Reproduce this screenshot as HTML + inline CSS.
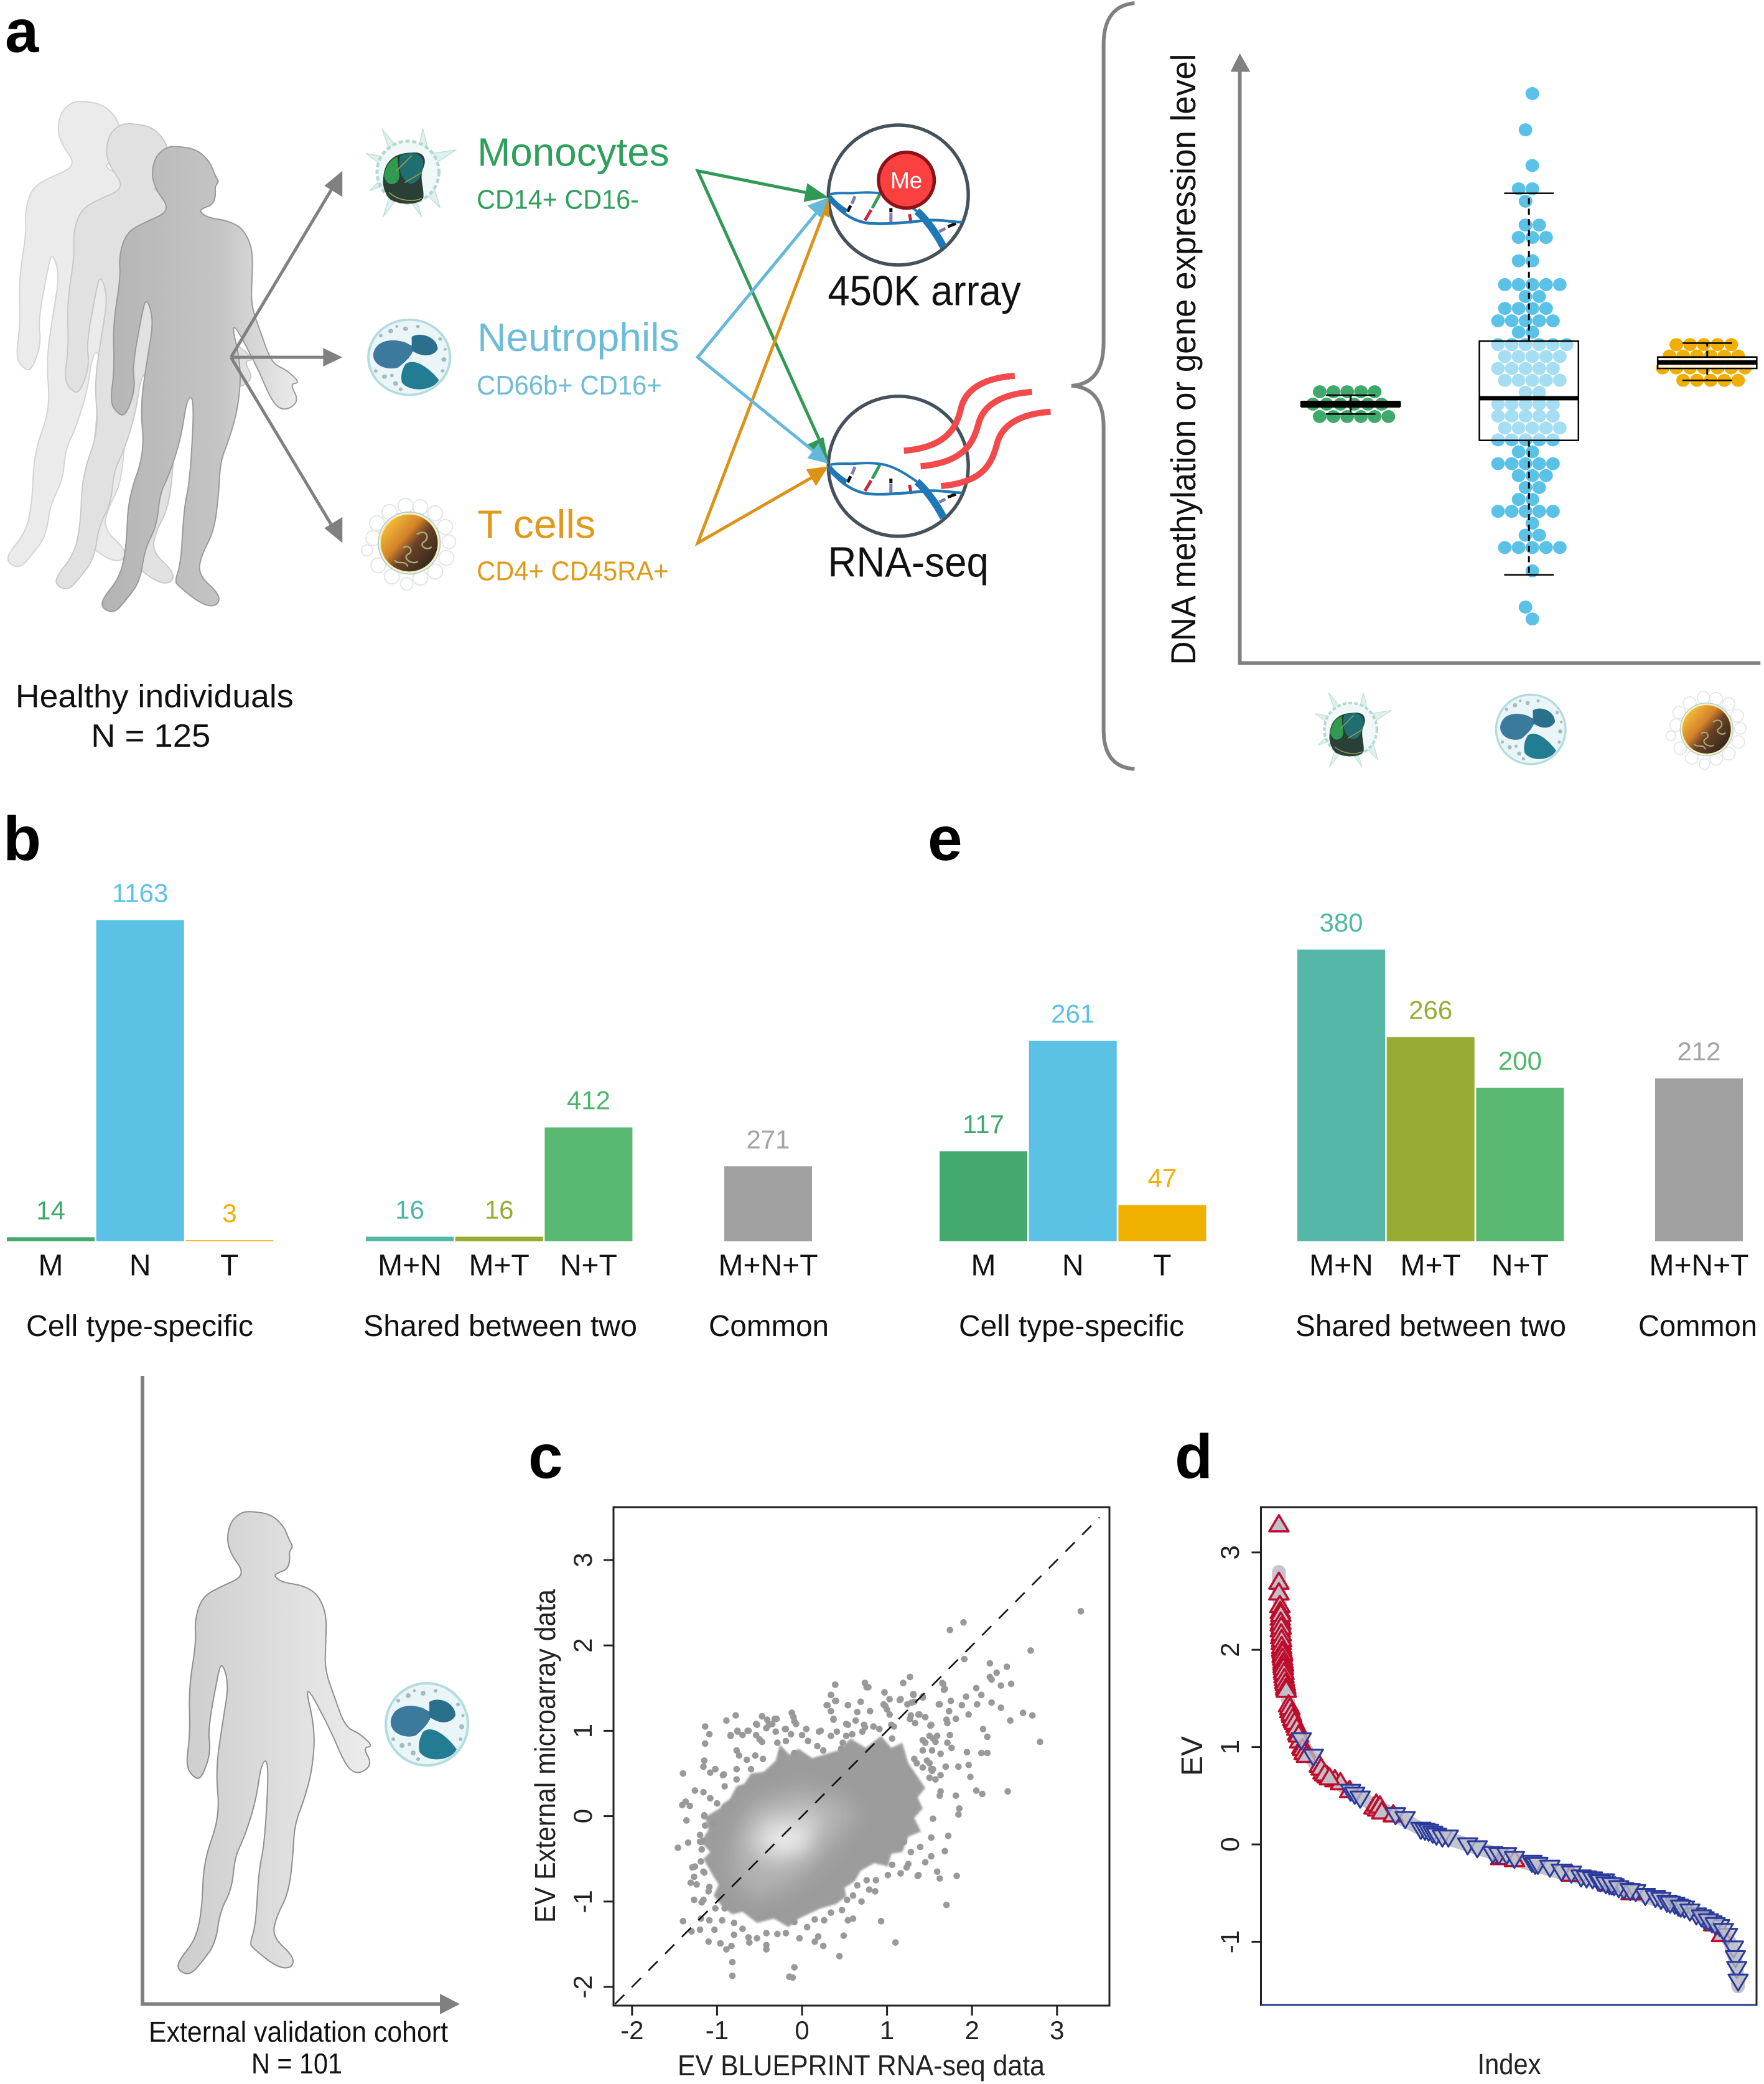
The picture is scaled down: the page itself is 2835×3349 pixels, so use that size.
<!DOCTYPE html>
<html lang="en">
<head>
<meta charset="utf-8">
<title>Cell type expression variability figure</title>
<style>
html,body{margin:0;padding:0;background:#fff;}
svg{display:block;font-family:"Liberation Sans",Arial,sans-serif;}
</style>
</head>
<body>
<svg id="fig" xmlns="http://www.w3.org/2000/svg" width="2835" height="3349" viewBox="0 0 2835 3349">
<defs>
  <linearGradient id="g-body" x1="0" x2="1" y1="0" y2="0"><stop offset="0" stop-color="#b4b4b4"/><stop offset="0.6" stop-color="#c4c4c4"/><stop offset="1" stop-color="#ececec"/></linearGradient>
  <linearGradient id="g-body-ext" x1="0" x2="1" y1="0" y2="0"><stop offset="0" stop-color="#cdcdcd"/><stop offset="1" stop-color="#ececec"/></linearGradient>
  <linearGradient id="g-tcell" x1="0.1" y1="0.15" x2="0.9" y2="0.85"><stop offset="0" stop-color="#f6be3a"/><stop offset="0.38" stop-color="#d4822a"/><stop offset="0.58" stop-color="#6a4226"/><stop offset="1" stop-color="#33261e"/></linearGradient>
  <filter id="soft" filterUnits="userSpaceOnUse" x="900" y="2400" width="1000" height="900"><feGaussianBlur stdDeviation="14"/></filter>
  <filter id="soft-small" filterUnits="userSpaceOnUse" x="900" y="2400" width="1000" height="900"><feGaussianBlur stdDeviation="1.5"/></filter>
  <path id="body" vector-effect="non-scaling-stroke" stroke-linejoin="round" d=""/>
  <g id="cell-mono">
    <path d="M-42,-70 L-18,-40 L-30,-36 Z M24,-70 L32,-38 L18,-42 Z M78,-36 L44,-14 L38,-30 Z M-68,-30 L-40,-10 L-34,-24 Z M-62,30 L-38,6 L-34,20 Z M52,58 L40,18 L28,34 Z M22,72 L12,40 L2,44 Z M-40,72 L-16,40 L-28,32 Z" fill="#dff1ed" stroke="#c0e0da" stroke-width="1.5"/>
    <circle r="50" fill="#f0f9f7" stroke="#b4d8d2" stroke-width="5" stroke-dasharray="7 4"/>
    <g transform="translate(-3,3) scale(1.15)">
      <path d="M-32,4 C-30,-20 -14,-30 8,-30 C24,-32 30,-22 24,-8 C18,6 26,20 24,34 C18,44 -8,44 -22,36 C-30,28 -34,16 -32,4 Z" fill="#2a3f36"/>
      <path d="M-8,-26 C6,-32 26,-32 24,-10 C20,4 18,12 6,14 C-8,8 -12,-10 -8,-26 Z" fill="#1f6f72"/>
      <path d="M-31,2 C-28,-14 -20,-22 -12,-24 C-12,-4 -4,10 -18,14 C-24,16 -30,10 -31,2 Z" fill="#2f9a50"/>
      <path d="M-24,26 C-10,38 10,40 22,34 M-14,-4 L8,-26 M-2,12 L22,-2" stroke="#9a9a50" stroke-width="1.5" fill="none"/>
    </g>
  </g>
  <g id="cell-neut">
    <circle r="66" fill="#eaf5f7" stroke="#b4dbe0" stroke-width="4"/>
    <path d="M-58,-6 C-54,-30 -28,-34 -6,-26 L8,-18 C6,-4 -6,8 -18,18 C-36,24 -60,14 -58,-6 Z" fill="#3b7a9c"/>
    <path d="M4,-36 C20,-46 46,-34 46,-14 C38,0 20,0 4,-12 Z" fill="#2a6f8c"/>
    <path d="M-6,12 C8,0 32,18 48,40 C38,60 0,62 -12,44 C-14,32 -12,22 -6,12 Z" fill="#237d92"/>
    <g fill="#a2bcc4"><circle cx="-30" cy="-46" r="4"/><circle cx="-6" cy="-50" r="4"/><circle cx="14" cy="-54" r="3"/><circle cx="50" cy="-32" r="3"/><circle cx="56" cy="4" r="4"/><circle cx="54" cy="24" r="3"/><circle cx="-40" cy="34" r="4"/><circle cx="-22" cy="46" r="4"/><circle cx="-54" cy="24" r="3"/><circle cx="-28" cy="32" r="3"/><circle cx="-46" cy="-38" r="3"/><circle cx="58" cy="-14" r="2.5"/><circle cx="-14" cy="56" r="3"/><circle cx="-20" cy="-54" r="2.5"/></g>
  </g>
  <g id="cell-tcell">
    <g fill="#fff" stroke="#e2e6e6" stroke-width="2">
      <circle cx="-58" cy="-8" r="12"/><circle cx="-68" cy="12" r="9"/><circle cx="-52" cy="-32" r="12"/><circle cx="-32" cy="-50" r="12"/><circle cx="-6" cy="-60" r="12"/><circle cx="18" cy="-58" r="12"/><circle cx="42" cy="-48" r="12"/><circle cx="58" cy="-26" r="12"/><circle cx="64" cy="-2" r="11"/><circle cx="60" cy="24" r="12"/><circle cx="42" cy="46" r="12"/><circle cx="18" cy="56" r="12"/><circle cx="-4" cy="66" r="10"/><circle cx="-28" cy="54" r="12"/><circle cx="-50" cy="36" r="12"/>
    </g>
    <circle r="50" fill="#fff" stroke="#b8cccc" stroke-width="2"/>
    <circle r="47" fill="url(#g-tcell)" stroke="#f2eda0" stroke-width="2"/>
    <path d="M12,-14 C28,-24 34,-8 24,-2 C14,4 30,14 36,6 M-10,8 C0,0 8,14 -2,18 C-12,24 4,36 14,30 M-24,28 C-16,36 -8,26 -2,38" stroke="#a8a878" stroke-width="2.5" fill="none"/>
  </g>
  <g id="dna">
    <g stroke-width="5">
      <line x1="42" y1="3" x2="37" y2="15" stroke="#7c7cb4"/><line x1="35" y1="18" x2="30" y2="28" stroke="#111"/>
      <line x1="82" y1="0" x2="70" y2="22" stroke="#2ea04f"/><line x1="68" y1="25" x2="58" y2="42" stroke="#c8283c"/>
      <line x1="100" y1="22" x2="100" y2="29" stroke="#111"/><line x1="100" y1="30" x2="100" y2="48" stroke="#7c7cb4"/>
      <line x1="130" y1="32" x2="133" y2="47" stroke="#c8283c"/>
      <line x1="205" y1="47" x2="192" y2="52" stroke="#111"/><line x1="188" y1="55" x2="178" y2="60" stroke="#7c7cb4"/>
    </g>
    <path d="M0,0 C12,-3 25,-2 38,-2 C52,-3 66,-4 80,-2 C102,0 124,14 142,27" fill="none" stroke="#2379b5" stroke-width="4"/>
    <path d="M142,27 C155,38 172,60 185,85" fill="none" stroke="#1e78b8" stroke-width="12"/>
    <path d="M3,10 C18,28 35,40 55,45 C75,50 120,46 155,42 C175,40 195,44 215,45" fill="none" stroke="#2379b5" stroke-width="4.5"/>
    <path d="M0,4 C8,14 18,22 28,28" fill="none" stroke="#1e78b8" stroke-width="9"/>
  </g>
</defs>

<rect width="2835" height="3349" fill="#fff"/>

<!-- PANEL A, left -->
<g id="panel-a" transform="scale(.995)">
  <text x="8" y="84" font-size="98" font-weight="bold">a</text>
  <use href="#body" transform="matrix(.488 0 0 .741 -177 -68)" fill="#ebebeb" stroke="#d4d4d4" stroke-width="2"/>
  <use href="#body" transform="matrix(.488 0 0 .741 -99 -32)" fill="#e1e1e1" stroke="#c8c8c8" stroke-width="2"/>
  <use href="#body" transform="matrix(.488 0 0 .741 -24.9 4.8)" fill="url(#g-body)" stroke="#9a9a9a" stroke-width="2"/>
  <g font-size="52" fill="#111">
    <text x="25" y="1142" textLength="449" lengthAdjust="spacingAndGlyphs">Healthy individuals</text>
    <text x="147" y="1206" textLength="193" lengthAdjust="spacingAndGlyphs">N = 125</text>
  </g>
  <g stroke="#808080" stroke-width="5" fill="#808080">
    <line x1="373" y1="577" x2="545" y2="290"/>
    <polygon points="553,276 524,300 553,318" stroke="none"/>
    <line x1="373" y1="577" x2="530" y2="577"/>
    <polygon points="553,577 522,562 522,592" stroke="none"/>
    <line x1="373" y1="577" x2="545" y2="864"/>
    <polygon points="553,877 524,853 553,835" stroke="none"/>
  </g>
  <use href="#cell-mono" transform="translate(659,278)"/>
  <use href="#cell-neut" transform="translate(661,577) scale(1,.92)"/>
  <use href="#cell-tcell" transform="translate(661,877)"/>

  <g fill="#2fa05c">
    <text x="771" y="268" font-size="64" textLength="310" lengthAdjust="spacingAndGlyphs">Monocytes</text>
    <text x="770" y="337" font-size="44" textLength="262" lengthAdjust="spacingAndGlyphs">CD14+ CD16-</text>
  </g>
  <g fill="#6cbcd9">
    <text x="771" y="567" font-size="64" textLength="326" lengthAdjust="spacingAndGlyphs">Neutrophils</text>
    <text x="770" y="637" font-size="44" textLength="299" lengthAdjust="spacingAndGlyphs">CD66b+ CD16+</text>
  </g>
  <g fill="#e09a1a">
    <text x="771" y="869" font-size="64" textLength="191" lengthAdjust="spacingAndGlyphs">T cells</text>
    <text x="770" y="937" font-size="44" textLength="310" lengthAdjust="spacingAndGlyphs">CD4+ CD45RA+</text>
  </g>

  <circle cx="1451" cy="315" r="113" fill="#fff" stroke="#44525c" stroke-width="5.5"/>
  <circle cx="1451" cy="753" r="113" fill="#fff" stroke="#44525c" stroke-width="5.5"/>
  <use href="#dna" transform="translate(1339,314)"/>
  <use href="#dna" transform="translate(1339,751)"/>
  <circle cx="1464" cy="291" r="45" fill="#fb4040" stroke="#8c1218" stroke-width="5.5"/>
  <text x="1464" y="304" font-size="37" fill="#fff" text-anchor="middle">Me</text>
  <g fill="none" stroke="#f24a4a" stroke-width="10">
    <path d="M1460,728 C1530,722 1545,690 1552,660 C1560,625 1595,610 1639,607"/>
    <path d="M1487,753 C1557,747 1572,715 1580,686 C1588,651 1623,636 1667,633"/>
    <path d="M1520,785 C1590,779 1602,747 1610,718 C1618,683 1653,668 1697,665"/>
  </g>

  <g fill="none" stroke-width="5">
    <g stroke="#2f9a56">
      <polyline points="1322,315 1127,276 1330,725"/>
      <polygon points="1338,319 1304,296 1298,326" fill="#2f9a56" stroke="none"/>
      <polygon points="1338,745 1330,706 1304,718" fill="#2f9a56" stroke="none"/>
    </g>
    <g stroke="#dd9216">
      <polyline points="1334,335 1127,877 1322,765"/>
      <polygon points="1338,320 1314,338 1340,352" fill="#dd9216" stroke="none"/>
      <polygon points="1338,753 1302,758 1318,785" fill="#dd9216" stroke="none"/>
    </g>
    <g stroke="#64b8d8">
      <polyline points="1326,335 1127,577 1322,735"/>
      <polygon points="1338,319 1304,332 1326,352" fill="#64b8d8" stroke="none"/>
      <polygon points="1338,749 1322,716 1304,740" fill="#64b8d8" stroke="none"/>
    </g>
  </g>
  <text x="1337" y="493" font-size="68" fill="#111" textLength="312" lengthAdjust="spacingAndGlyphs">450K array</text>
  <text x="1337" y="931" font-size="68" fill="#111" textLength="260" lengthAdjust="spacingAndGlyphs">RNA-seq</text>
</g>

<!-- PANEL A, right -->
<g transform="translate(8.5,0) scale(.995)">
  <path d="M1824,5 C1790,8 1774,32 1774,72 L1774,553 C1774,600 1755,621 1722,623 C1755,625 1774,646 1774,689 L1774,1178 C1774,1218 1790,1240 1824,1242" fill="none" stroke="#808080" stroke-width="6"/>
  <g id="swarm"></g>
  <text transform="translate(1922,1074) rotate(-90)" font-size="56" fill="#111" textLength="987" lengthAdjust="spacingAndGlyphs">DNA methylation or gene expression level</text>
  <g stroke="#808080" stroke-width="6" fill="#808080">
    <line x1="1994" y1="112" x2="1994" y2="1071"/>
    <polygon points="1994,86 1979,116 2011,116" stroke="none"/>
    <line x1="1991" y1="1071" x2="2835" y2="1071"/>
  </g>
  <use href="#cell-mono" transform="translate(2173,1178) scale(.85)"/>
  <use href="#cell-neut" transform="translate(2464,1178) scale(.85)"/>
  <use href="#cell-tcell" transform="translate(2748,1178) scale(.85)"/>
</g>

<!-- PANELS B / E -->
<text x="5" y="1382" font-size="100" font-weight="bold">b</text>
<text x="1491" y="1382" font-size="100" font-weight="bold">e</text>
<g id="bars-b"></g>
<g id="bars-e"></g>

<!-- EXTERNAL COHORT -->
<g>
  <use href="#body" transform="matrix(.4785 0 0 .7326 100 2200)" fill="url(#g-body-ext)" stroke="#8e8e8e" stroke-width="2"/>
  <use href="#cell-neut" transform="translate(686,2771)"/>
  <g stroke="#808080" stroke-width="6" fill="#808080">
    <line x1="229" y1="2211" x2="229" y2="3223"/>
    <line x1="226" y1="3220.5" x2="712" y2="3220.5"/>
    <polygon points="739,3220.5 707,3204 707,3237" stroke="none"/>
  </g>
  <text x="239" y="3281" font-size="46" fill="#111" textLength="481" lengthAdjust="spacingAndGlyphs">External validation cohort</text>
  <text x="404" y="3332" font-size="46" fill="#111" textLength="146" lengthAdjust="spacingAndGlyphs">N = 101</text>
</g>

<!-- PANEL C -->
<text x="849" y="2375" font-size="100" font-weight="bold">c</text>
<g id="scatter"></g>

<!-- PANEL D -->
<text x="1888" y="2375" font-size="100" font-weight="bold">d</text>
<g id="rank"></g>

<script>
/* ---------- person outline ---------- */
const outlineX = [630,700,745,762,776,762,765,755,720,712,740,810,860,888,885,882,915,950,1000,1045,1010,1040,1010,975,945,900,810,850,840,810,780,775,760,720,705,780,770,720,640,630,650,660,680,695,670,650,610,580,570,530,515,470,430,390,388,450,470,475,530,515,540,560,535,520,490,497,490,465,440,415,430,425,450,445,470,530,595,605,570,552,565,600];
const outlineY = [312,318,345,375,390,400,420,440,448,455,468,475,495,540,600,660,720,785,800,828,830,865,885,885,860,790,680,790,880,950,1000,1070,1150,1200,1245,1290,1315,1312,1270,1260,1220,1100,1040,860,860,950,1030,1070,1140,1190,1260,1300,1330,1320,1300,1250,1180,1080,980,880,770,690,640,680,790,830,860,900,895,870,800,700,600,550,500,478,460,440,410,375,335,315];
(function () {
  const n = outlineX.length;
  const mx = i => (outlineX[i % n] + outlineX[(i + 1) % n]) / 2;
  const my = i => (outlineY[i % n] + outlineY[(i + 1) % n]) / 2;
  let d = 'M' + mx(0) + ',' + my(0);
  for (let i = 1; i <= n; i++) d += ' Q' + outlineX[i % n] + ',' + outlineY[i % n] + ' ' + mx(i) + ',' + my(i);
  document.getElementById('body').setAttribute('d', d + ' Z');
})();

/* ---------- schematic boxplot data (arbitrary expression units) ---------- */
const monoLevels = [547, 522, 497];
const monoCounts = [5, 6, 6];
const monoShifts = [-1, -1, 1];
const monoBox = [502, 518, 522, 526, 540];

const neutroLevels = [1148,1075,1003,956,931,883,858,811,763,739,715,690,667,642,618,594,570,546,522,498,474,450,426,402,378,354,330,306,282,258,233,186,113,89];
const neutroCounts = [1,1,1,2,1,2,3,2,5,2,4,5,2,6,5,5,5,2,5,5,5,5,2,5,3,2,2,5,1,2,5,1,1,1];
const neutroShifts = [1,-1,1,-1,-1,1,1,-1,1,1,-1,-1,-1,1,1,-1,1,1,-1,-1,1,-1,-1,-1,1,1,-1,-1,1,1,1,1,-1,1];
const neutroBox = [178, 449, 534, 649, 947];

const tcellLevels = [642, 619, 595, 570];
const tcellCounts = [5, 6, 7, 5];
const tcellShifts = [-1, -1, -1, 1];
const tcellBox = [570, 594, 606, 617, 645];

/* ---------- panels b and e ---------- */
const barCategories = ['M','N','T','M+N','M+T','N+T','M+N+T'];
const barGroups = ['Cell type-specific','Shared between two','Common'];
const valuesB = [14,1163,3,16,16,412,271];
const valuesE = [117,261,47,380,266,200,212];

/* ---------- panel c ---------- */
const scatterTicksX = [-2,-1,0,1,2,3];
const scatterTicksY = [-2,-1,0,1,2,3];
const scatterX = [3.28,1.90,1.74,2.69,1.91,2.21,2.41,2.29,2.21,2.23,2.34,2.46,1.27,1.19,1.66,.39,.74,.76,2.05,2.11,.34,1.68,.97,1.31,1.42,1.75,1.93,.39,.29,.54,.69,.98,1.15,1.32,1.62,1.88,2.06,2.23,2.34,2.60,2.71,2.45,2.80,2.42,2.12,2.05,1.98,2.18,2.11,2.13,2.18,1.96,1.81,1.71,1.52,1.38,1.27,1.05,.74,.37,.54,.22,.05,-.12,-.09,-.32,-.47,-.39,-.2,-.78,-.89,-.53,-.64,-.76,-.84,-1.14,-1.09,-1.14,-1.15,-1.16,-1.02,-1.08,-.93,-1.40,-1.26,-1.16,-1.08,-.91,-1.37,-1.41,-1.32,-1.36,-1.46,-1.34,-1.18,-1.20,-1.15,-1.29,-1.27,-1.31,-1.24,-1.15,-1.10,-1.27,-1.18,-1.40,-1.19,-1.30,-1.20,-1.03,-1.10,-.96,-.89,-.83,-.82,-.82,-.42,-.42,-.62,-.09,-.15,-.11,.44,.25,.15,.19,-.03,.49,1.10,.93,1.70,1.82,1.62,1.59,1.36,1.68,1.72,1.52,1.45,1.52,1.84,1.85,1.81,1.62,1.57,1.54,1.47,1.57,1.74,1.76,1.94,1.84,1.96,1.52,1.69];
const scatterY = [2.40,2.27,2.18,1.94,1.84,1.79,1.75,1.68,1.63,1.60,1.53,1.55,1.63,1.56,1.55,1.54,1.56,1.51,1.50,1.42,1.42,1.49,1.45,1.43,1.39,1.35,1.40,1.35,1.30,1.30,1.34,1.29,1.36,1.34,1.31,1.30,1.31,1.33,1.27,1.21,1.18,1.12,.87,.29,.26,.30,.46,.74,.74,1.02,.93,1.19,1.14,1.09,1.07,1.19,1.14,1.07,1.04,1.14,1.07,1.0,1.02,1.21,1.11,1.14,1.17,1.07,1.02,1.18,1.12,1.07,1.0,1.0,.95,1.05,.96,.85,.65,.58,.55,.51,.48,.50,.30,.28,.21,.35,.17,.13,.12,-.05,-.37,-.31,-.30,-.22,0,-.6,-.71,-.78,-.8,-.66,-.88,-.98,-1.01,-1.23,-1.20,-1.35,-1.33,-1.33,-1.47,-1.49,-1.56,-1.52,-1.71,-1.87,-1.51,-1.56,-1.48,-1.77,-1.88,-1.89,-1.64,-1.52,-1.47,-1.41,-1.43,-1.40,-1.48,-1.23,-1.04,-.70,-.73,-.65,-.70,-.41,-.23,-.25,-.54,-.47,.02,.09,.24,.24,.43,-.03,.65,.87,.95,.80,.75,.58,.60,.55,.58];
const topFringeX = [-.84,-.76,-.70,-.63,-.54,-.54,-.50,-.47,-.47,-.41,-.35,-.30,-.42,-.31,-.19,-.12,-.10,-.07,-.13,0,.05,.07,.20,.34,.41,.39,.34,.40,.30,.34,.37,.54,.65,.69,.80,.52,.63,.73,.84,.74,.78,.97,1.03,.96,1.00,1.03,1.16,1.28,1.33,1.08,1.19,1.42,1.61,1.37,1.45,1.51,1.67,1.65,1.73,1.70,1.71,1.45,1.54,1.53,1.63,1.32,1.42,1.54,1.69,1.63,1.50,1.63,1.29,1.24,1.31,1.42,1.50,1.59,1.42,1.35,1.50,1.53,.52,.59,.71,.91,1.06,.46,.48,-.29,-.19,-.24,-.09,.18,.25];
const topFringeY = [.94,.99,.95,1.0,1.08,.95,.90,.87,1.17,1.13,1.08,1.14,1.03,.99,1.02,1.21,1.16,1.08,.96,.95,1.02,.88,.99,.94,.99,1.54,1.42,1.35,1.30,1.23,1.13,1.30,1.22,1.34,1.23,1.08,1.12,1.07,1.05,1.56,1.51,1.45,1.37,1.31,1.25,1.19,1.37,1.18,1.09,1.05,1.56,1.40,1.31,1.19,1.16,1.06,1.48,1.56,1.23,1.13,.86,.86,.91,.77,.73,.67,.57,.55,.58,.48,.45,.29,1.33,1.31,1.42,.89,.94,.94,.77,.62,.62,.53,.94,.96,.99,1.02,.91,.79,.86,.86,.88,.74,.74,.82,.77];
const lowFringeX = [-.77,-.74,-.65,-.55,-.46,-.77,-.77,-.60,-1.0,-1.15,-1.14,-1.04,-1.20,-1.18,-1.19,-1.09,-.97,-.91,-1.02,-1.09,-.94,-.80,-.80,-.70,-.63,-.53,-.42,-.29,-.19,-.09,.06,.15,.26,.34,.47,.54,.60,.53,.60,.70,.79,.86,.65,.76,.87,1.01,1.06,1.20,1.23,1.16,1.25,1.37,1.39,1.28,-1.16,-1.17,-1.08,-1.02,-.92,-1.26,-1.16,-.96];
const lowFringeY = [.77,.71,.66,.71,.67,.55,.43,.55,.15,.01,-.11,-.08,-.30,-.39,-.53,-.83,-.93,-1.08,-1.08,-1.22,-1.22,-1.25,-1.39,-1.32,-1.42,-1.43,-1.37,-1.38,-1.37,-1.24,-1.30,-1.21,-1.22,-1.13,-1.10,-1.22,-1.20,-.98,-.93,-1.0,-.86,-.88,-.81,-.75,-.75,-.69,-.57,-.30,-.60,-.67,-.56,-.69,-.36,-.42,-.65,-.29,.21,.55,.49,-.59,-.98,-1.49];
const coreContourX = [-.94,-.85,-.77,-.68,-.60,-.45,-.31,-.26,-.15,-.04,.12,.32,.45,.57,.75,.93,1.05,1.18,1.25,1.30,1.45,1.36,1.42,1.32,1.40,1.25,1.18,1.05,1.01,.85,.69,.62,.50,.52,.40,.22,-.04,-.16,-.33,-.53,-.70,-.82,-.95,-1.04,-.98,-1.04,-1.16,-1.08,-1.19,-1.10,-1.14,-.97];
const coreContourY = [.14,.20,.35,.38,.50,.52,.65,.84,.72,.79,.68,.74,.78,.91,.80,.94,.80,.86,.62,.55,.33,.22,.09,-.02,-.18,-.24,-.42,-.44,-.59,-.55,-.64,-.76,-.84,-.94,-1.03,-1.08,-1.20,-1.30,-1.20,-1.25,-1.12,-1.15,-1.05,-.93,-.80,-.71,-.50,-.42,-.30,-.16,-.01,.09];
const midContourX = [-.77,-.58,-.04,.45,.64,.45,.20,-.16,-.58,-.82,-.82];
const midContourY = [-.16,.16,.33,.23,.04,-.25,-.54,-.84,-.98,-.71,-.35];
const innerContourX = [-.60,-.38,.06,.28,.16,-.04,-.43,-.60];
const innerContourY = [-.16,.04,.09,.04,-.25,-.50,-.59,-.40];
const peakContourX = [-.48,-.24,.06,.06,-.19,-.43];
const peakContourY = [-.21,-.11,-.16,-.33,-.42,-.35];

/* ---------- panel d ---------- */
const rankTicksY = [-1,0,1,2,3];
const curveIndex = [0,0,3,7,11,15,20,28,41,58,79,122,156,207,258,301,369,428,488,547,615,701,786,854,914,957,983,996,1000];
const curveEV = [2.80,2.62,2.41,2.02,1.85,1.64,1.47,1.29,1.14,.98,.83,.65,.55,.40,.29,.18,.06,-.03,-.12,-.2,-.29,-.39,-.52,-.61,-.73,-.84,-1.01,-1.22,-1.46];
const upIndex = [0,0,0,2,3,3,3,3,4,5,6,7,9,9,10,11,13,15,4,4,5,5,6,6,7,8,8,9,10,10,11,12,14,15,16,21,24,28,32,37,41,45,50,24,27,30,34,39,43,58,88,96,105,122,134,154,207,212,215,220,224,249,483,492,513,637,716,767,947,964,52,55,60,92,100,110];
const upEV = [3.30,2.71,2.60,2.47,2.41,2.34,2.28,2.22,2.15,2.09,2.02,1.96,1.90,1.85,1.80,1.75,1.69,1.64,2.38,2.30,2.25,2.18,2.12,2.05,2.00,1.98,1.93,1.88,1.87,1.83,1.78,1.72,1.67,1.62,1.60,1.45,1.39,1.34,1.29,1.24,1.16,1.08,1.02,1.42,1.36,1.31,1.27,1.21,1.14,.98,.83,.76,.72,.68,.65,.57,.40,.43,.38,.41,.35,.32,-.12,-.12,-.14,-.29,-.39,-.48,-.8,-.91,1.00,.96,.93,.80,.74,.70];
const downIndex = [49,75,156,165,177,254,275,309,318,326,335,343,356,369,411,432,466,479,496,513,551,558,564,590,615,637,658,670,683,695,709,720,730,751,777,798,820,832,845,862,870,883,909,926,943,960,977,990,994,997,1000,700,712,725,740,765,852,875,895,920,935,950,968];
const downEV = [1.06,.89,.53,.50,.46,.29,.25,.14,.13,.12,.10,.08,.06,.06,-.02,-.05,-.11,-.12,-.12,-.16,-.2,-.22,-.22,-.25,-.29,-.31,-.35,-.36,-.37,-.39,-.39,-.43,-.44,-.48,-.50,-.54,-.56,-.58,-.61,-.63,-.65,-.67,-.74,-.78,-.82,-.86,-.95,-1.08,-1.18,-1.29,-1.42,-.40,-.42,-.43,-.46,-.49,-.62,-.66,-.70,-.76,-.80,-.84,-.90];

/* ---------- helpers ---------- */
const NS = 'http://www.w3.org/2000/svg';
function mk(tag, attrs, parent) {
  const node = document.createElementNS(NS, tag);
  for (const k in attrs) node.setAttribute(k, attrs[k]);
  parent.appendChild(node);
  return node;
}

/* ---------- schematic swarm ---------- */
(function () {
  const root = document.getElementById('swarm');
  const yLevel = v => 1071 - v / 1.248;
  const centers = [2173, 2461, 2749];
  const groupNames = ['monocyte', 'neutrophil', 'tcell'];
  const colors = ['#3fa86b', '#5bc2e7', '#f0ae00'];
  const levels = [monoLevels, neutroLevels, tcellLevels];
  const counts = [monoCounts, neutroCounts, tcellCounts];
  const shifts = [monoShifts, neutroShifts, tcellShifts];
  const boxes = [monoBox, neutroBox, tcellBox];
  const spacing = 22.2, dr = 11;
  centers.forEach((cx, g) => {
    levels[g].forEach((lv, r) => {
      const n = counts[g][r];
      for (let i = 0; i < n; i++) {
        const el = mk('ellipse', {cx: cx + shifts[g][r] * 5.5 + (i - (n - 1) / 2) * spacing, cy: yLevel(lv), rx: dr, ry: dr - .5, fill: colors[g]}, root);
        
        
      }
    });
    const [lo, q1, med, q3, hi] = boxes[g];
    const halfBox = 80, halfCap = 40;
    const box = mk('rect', {x: cx - halfBox, y: yLevel(q3), width: halfBox * 2, height: yLevel(q1) - yLevel(q3), fill: '#fff', 'fill-opacity': g === 1 ? .45 : .85, stroke: '#000', 'stroke-width': 2.5}, root);
    
    
    const whiskHi = mk('line', {x1: cx, x2: cx, y1: yLevel(q3), y2: yLevel(hi), stroke: '#000', 'stroke-width': 3, 'stroke-dasharray': '10 7'}, root);
    
    
    const whiskLo = mk('line', {x1: cx, x2: cx, y1: yLevel(q1), y2: yLevel(lo), stroke: '#000', 'stroke-width': 3, 'stroke-dasharray': '10 7'}, root);
    
    
    const capHi = mk('line', {x1: cx - halfCap, x2: cx + halfCap, y1: yLevel(hi), y2: yLevel(hi), stroke: '#000', 'stroke-width': 2.5}, root);
    
    
    const capLo = mk('line', {x1: cx - halfCap, x2: cx + halfCap, y1: yLevel(lo), y2: yLevel(lo), stroke: '#000', 'stroke-width': 2.5}, root);
    
    
    const median = mk('line', {x1: cx - halfBox, x2: cx + halfBox, y1: yLevel(med), y2: yLevel(med), stroke: '#000', 'stroke-width': g === 0 ? 11 : 7}, root);
    
    
  });
})();

/* ---------- bar charts ---------- */
function drawBars(rootId, values, pxPerUnit, groupStarts, groupLabels, panel) {
  const root = document.getElementById(rootId);
  const base = 1994.5, w = 141, pitch = 143.7;
  const y = v => base - v * pxPerUnit;
  const fills = ['#43a96c', '#5bc2e6', '#f0b000', '#54b7a7', '#98ac33', '#59b871', '#a0a0a0'];
  const inks = ['#3fa86b', '#5bc2e6', '#f0b000', '#4db6a6', '#98ac33', '#4fb56c', '#a2a2a8'];
  const groupOf = [0, 0, 0, 1, 1, 1, 2];
  const slotOf = [0, 1, 2, 0, 1, 2, 0];
  barCategories.forEach((cat, i) => {
    const left = groupStarts[groupOf[i]] + slotOf[i] * pitch;
    const bar = mk('rect', {x: left, y: y(values[i]), width: w, height: base - y(values[i]), fill: fills[i]}, root);
    
    
    const val = mk('text', {x: left + w / 2, y: y(values[i]) - 29, 'font-size': 42, fill: inks[i], 'text-anchor': 'middle'}, root);
    val.textContent = values[i];
    
    
    const tick = mk('text', {x: left + w / 2, y: 2049.5, 'font-size': 48, fill: '#111', 'text-anchor': 'middle'}, root);
    tick.textContent = cat;
    
    
  });
  groupLabels.forEach((g, i) => {
    const t = mk('text', {x: g[0], y: 2147, 'font-size': 48, fill: '#111', textLength: g[1], lengthAdjust: 'spacingAndGlyphs'}, root);
    t.textContent = barGroups[i];
    
    
  });
}
drawBars('bars-b', valuesB, 0.4436, [11, 588, 1164], [[42, 365], [584, 440], [1139, 193]], 'b');
drawBars('bars-e', valuesE, 1.233, [1510, 2085, 2660], [[1541, 362], [2082, 435], [2633, 191]], 'e');

/* ---------- scatter plot ---------- */
(function () {
  const root = document.getElementById('scatter');
  const X = v => 1289 + 136.6 * v;
  const Y = v => 2918.6 - 137.2 * v;
  const poly = (xs, ys) => xs.map((x, i) => X(x) + ',' + Y(ys[i])).join(' ');
  const core = mk('polygon', {points: poly(coreContourX, coreContourY), fill: '#9c9c9c', filter: 'url(#soft-small)'}, root);
  
  
  const allX = scatterX.concat(topFringeX, lowFringeX);
  const allY = scatterY.concat(topFringeY, lowFringeY);
  allX.forEach((x, i) => {
    const dot = mk('circle', {cx: X(x), cy: Y(allY[i]), r: 5.3, fill: '#999999'}, root);
    
    
  });
  const mid = mk('polygon', {points: poly(midContourX, midContourY), fill: '#b0b0b0', filter: 'url(#soft)'}, root);
  
  
  const inner = mk('polygon', {points: poly(innerContourX, innerContourY), fill: '#cccccc', filter: 'url(#soft)'}, root);
  
  
  const peak = mk('polygon', {points: poly(peakContourX, peakContourY), fill: '#eaeaea', filter: 'url(#soft)'}, root);
  
  
  const ref = mk('line', {x1: X(-2.2), y1: Y(-2.2), x2: X(3.5), y2: Y(3.5), stroke: '#111', 'stroke-width': 2.6, 'stroke-dasharray': '21 17'}, root);
  
  
  const frame = mk('rect', {x: 986, y: 2422, width: 797, height: 801, fill: 'none', stroke: '#222', 'stroke-width': 3}, root);
  
  
  scatterTicksX.forEach(t => {
    const tk = mk('line', {x1: X(t), x2: X(t), y1: 3223, y2: 3239, stroke: '#222', 'stroke-width': 3}, root);
    
    
    const lb = mk('text', {x: X(t), y: 3277, 'font-size': 42, fill: '#222', 'text-anchor': 'middle'}, root);
    lb.textContent = t;
    
    
  });
  scatterTicksY.forEach(t => {
    const tk = mk('line', {x1: 970, x2: 986, y1: Y(t), y2: Y(t), stroke: '#222', 'stroke-width': 3}, root);
    
    
    const lb = mk('text', {transform: 'translate(951,' + Y(t) + ') rotate(-90)', 'font-size': 42, fill: '#222', 'text-anchor': 'middle'}, root);
    lb.textContent = t;
    
    
  });
  const xt = mk('text', {x: 1089, y: 3335, 'font-size': 46, fill: '#222', textLength: 590, lengthAdjust: 'spacingAndGlyphs'}, root);
  xt.textContent = 'EV BLUEPRINT RNA-seq data';
  
  
  const yt = mk('text', {transform: 'translate(892,3090) rotate(-90)', 'font-size': 46, fill: '#222', textLength: 536, lengthAdjust: 'spacingAndGlyphs'}, root);
  yt.textContent = 'EV External microarray data';
  
  
})();

/* ---------- rank plot ---------- */
(function () {
  const root = document.getElementById('rank');
  const X = i => 2055.4 + i * 0.738;
  const Y = v => 2964 - 156.4 * v;
  const line = mk('polyline', {points: curveIndex.map((c, i) => X(c) + ',' + Y(curveEV[i])).join(' '), fill: 'none', stroke: '#c4c4cc', 'stroke-width': 22, 'stroke-linecap': 'round', 'stroke-linejoin': 'round'}, root);
  
  
  const hw = 15.5, hh = 13;
  upIndex.forEach((c, i) => {
    const x = X(c), y = Y(upEV[i]);
    const tri = mk('polygon', {points: x + ',' + (y - hh) + ' ' + (x - hw) + ',' + (y + hh) + ' ' + (x + hw) + ',' + (y + hh), fill: '#c0c0c8', stroke: '#c00c2c', 'stroke-width': 3.5, 'stroke-linejoin': 'round'}, root);
    
    
  });
  downIndex.forEach((c, i) => {
    const x = X(c), y = Y(downEV[i]);
    const tri = mk('polygon', {points: x + ',' + (y + hh) + ' ' + (x - hw) + ',' + (y - hh) + ' ' + (x + hw) + ',' + (y - hh), fill: '#c0c0c8', 'fill-opacity': .75, stroke: '#2a3a9c', 'stroke-width': 3, 'stroke-linejoin': 'round'}, root);
    
    
  });
  const frame = mk('rect', {x: 2026.5, y: 2422, width: 796.5, height: 800, fill: 'none', stroke: '#222', 'stroke-width': 3}, root);
  
  
  const baseLine = mk('line', {x1: 2026.5, x2: 2823, y1: 3222, y2: 3222, stroke: '#2a3a8c', 'stroke-width': 3}, root);
  
  
  rankTicksY.forEach(t => {
    const tk = mk('line', {x1: 2011.5, x2: 2026.5, y1: Y(t), y2: Y(t), stroke: '#222', 'stroke-width': 3}, root);
    
    
    const lb = mk('text', {transform: 'translate(1991,' + Y(t) + ') rotate(-90)', 'font-size': 42, fill: '#222', 'text-anchor': 'middle'}, root);
    lb.textContent = t;
    
    
  });
  const yt = mk('text', {transform: 'translate(1932,2822) rotate(-90)', 'font-size': 48, fill: '#222', 'text-anchor': 'middle'}, root);
  yt.textContent = 'EV';
  
  
  const xt = mk('text', {x: 2374.5, y: 3333, 'font-size': 46, fill: '#222', textLength: 102, lengthAdjust: 'spacingAndGlyphs'}, root);
  xt.textContent = 'Index';
  
  
})();
</script>
</svg>
</body>
</html>
